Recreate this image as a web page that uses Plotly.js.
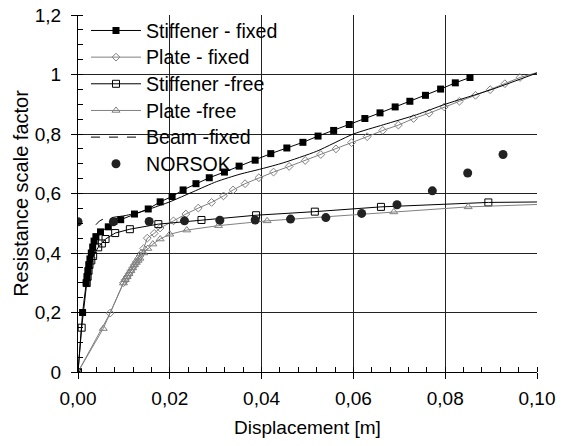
<!DOCTYPE html>
<html>
<head>
<meta charset="utf-8">
<script src="https://cdn.plot.ly/plotly-3.0.1.min.js"></script>
<style>html,body{margin:0;padding:0;background:#fff;}#chart{width:571px;height:446px;}</style>
</head>
<body>
<div id="chart"></div>
<script>
// ---- data ----
const stiffFixedX = [0, 0.0010, 0.0018, 0.0020, 0.0022, 0.0024, 0.0026, 0.0029, 0.0032, 0.0035, 0.0039, 0.0049, 0.0066, 0.0078, 0.0093, 0.0123, 0.0153, 0.0179, 0.0205, 0.0229, 0.0257, 0.0286, 0.0319, 0.0351, 0.0386, 0.0420, 0.0455, 0.0490, 0.0523, 0.0557, 0.0591, 0.0625, 0.0658, 0.0691, 0.0723, 0.0757, 0.0790, 0.0822, 0.0854];
const stiffFixedY = [0, 0.200, 0.300, 0.320, 0.340, 0.360, 0.380, 0.400, 0.420, 0.440, 0.455, 0.471, 0.488, 0.506, 0.512, 0.531, 0.548, 0.572, 0.590, 0.612, 0.633, 0.653, 0.672, 0.692, 0.712, 0.734, 0.753, 0.772, 0.793, 0.812, 0.832, 0.852, 0.871, 0.891, 0.910, 0.930, 0.951, 0.972, 0.990];

const plateFixedX = [0, 0.0070, 0.0099, 0.0103, 0.0107, 0.0111, 0.0115, 0.0119, 0.0123, 0.0127, 0.0131, 0.0135, 0.0139, 0.0143, 0.0151, 0.0166, 0.0179, 0.0208, 0.0235, 0.0262, 0.0291, 0.0317, 0.0338, 0.0364, 0.0394, 0.0426, 0.0460, 0.0495, 0.0529, 0.0562, 0.0596, 0.0630, 0.0664, 0.0698, 0.0731, 0.0765, 0.0798, 0.0831, 0.0866, 0.0898, 0.0930, 0.0963, 0.1012];
const plateFixedY = [0, 0.198, 0.300, 0.310, 0.320, 0.330, 0.340, 0.350, 0.360, 0.370, 0.380, 0.390, 0.400, 0.415, 0.450, 0.466, 0.484, 0.508, 0.531, 0.551, 0.570, 0.592, 0.612, 0.633, 0.653, 0.672, 0.691, 0.711, 0.731, 0.750, 0.771, 0.791, 0.812, 0.830, 0.852, 0.870, 0.891, 0.910, 0.930, 0.949, 0.969, 0.990, 1.012];

const stiffFreeX = [0, 0.0008, 0.0019, 0.0021, 0.0023, 0.0025, 0.0029, 0.0033, 0.0044, 0.0052, 0.0060, 0.0081, 0.0113, 0.0175, 0.0269, 0.0388, 0.0516, 0.0660, 0.0894, 0.1035];
const stiffFreeY = [0, 0.149, 0.299, 0.320, 0.340, 0.360, 0.375, 0.390, 0.419, 0.432, 0.447, 0.467, 0.480, 0.497, 0.511, 0.527, 0.539, 0.555, 0.570, 0.572];

const plateFreeX = [0, 0.0055, 0.0099, 0.0103, 0.0107, 0.0111, 0.0115, 0.0119, 0.0123, 0.0127, 0.0131, 0.0135, 0.0143, 0.0152, 0.0163, 0.0179, 0.0200, 0.0237, 0.0306, 0.0412, 0.0688, 0.0850, 0.1035];
const plateFreeY = [0, 0.146, 0.299, 0.310, 0.320, 0.330, 0.340, 0.350, 0.360, 0.368, 0.375, 0.382, 0.400, 0.415, 0.430, 0.447, 0.463, 0.477, 0.492, 0.508, 0.538, 0.555, 0.565];

// Beam: first sparse (dashed) part, then dense (solid-looking) part
const beamDashX = [0.0039, 0.0047, 0.0055, 0.0066, 0.0077];
const beamDashY = [0.495, 0.508, 0.514, 0.518, 0.520];
const beamSolidX = [0.0077, 0.0100, 0.0130, 0.0160, 0.0200, 0.0251, 0.0302, 0.0353, 0.0400, 0.0447, 0.0520, 0.0600, 0.0665, 0.0738, 0.0800, 0.0900, 0.1012];
const beamSolidY = [0.520, 0.525, 0.535, 0.550, 0.572, 0.606, 0.640, 0.665, 0.683, 0.703, 0.742, 0.800, 0.831, 0.865, 0.900, 0.949, 1.012];

const norsokX = [0, 0.0077, 0.0155, 0.0232, 0.0309, 0.0386, 0.0463, 0.0540, 0.0618, 0.0695, 0.0772, 0.0849, 0.0926];
const norsokY = [0.505, 0.505, 0.506, 0.508, 0.510, 0.511, 0.514, 0.519, 0.533, 0.562, 0.609, 0.669, 0.731];

const xTickVals = [0, 0.02, 0.04, 0.06, 0.08, 0.10];
const xTickText = ['0,00', '0,02', '0,04', '0,06', '0,08', '0,10'];
const yTickVals = [0, 0.2, 0.4, 0.6, 0.8, 1.0, 1.2];
const yTickText = ['0', '0,2', '0,4', '0,6', '0,8', '1', '1,2'];

const names = ['Stiffener - fixed', 'Plate - fixed', 'Stiffener -free', 'Plate -free', 'Beam -fixed', 'NORSOK'];
const BLACK = '#000000', GREY = '#808080';
const FONT = 'Liberation Sans, Arial, sans-serif';
// legend label: glyphs slightly larger than the legend's row spacing font
const lg = s => '<span style="font-size:19.6px">' + s + '</span>';

const traces = [
  {x: stiffFixedX, y: stiffFixedY, name: lg(names[0]), mode: 'lines+markers',
   line: {color: BLACK, width: 1}, marker: {symbol: 'square', size: 7, color: BLACK}},
  {x: plateFixedX, y: plateFixedY, name: lg(names[1]), mode: 'lines+markers',
   line: {color: GREY, width: 1}, marker: {symbol: 'diamond-open', size: 6, color: GREY, line: {width: 1}}},
  {x: stiffFreeX, y: stiffFreeY, name: lg(names[2]), mode: 'lines+markers',
   line: {color: BLACK, width: 1}, marker: {symbol: 'square-open', size: 7, color: BLACK, line: {width: 1}}},
  {x: plateFreeX, y: plateFreeY, name: lg(names[3]), mode: 'lines+markers',
   line: {color: GREY, width: 1}, marker: {symbol: 'triangle-up-open', size: 7, color: GREY, line: {width: 1}}},
  {x: beamDashX, y: beamDashY, name: lg(names[4]), mode: 'lines', legendgroup: 'beam',
   line: {color: BLACK, width: 1, dash: 'dash'}},
  {x: beamSolidX, y: beamSolidY, name: lg(names[4]), mode: 'lines', legendgroup: 'beam', showlegend: false,
   line: {color: BLACK, width: 1, shape: 'spline', smoothing: 0.6}},
  {x: norsokX, y: norsokY, name: lg(names[5]), mode: 'markers',
   marker: {symbol: 'circle', size: 9, color: '#222222'}}
];

const layout = {
  width: 571, height: 446,
  margin: {l: 78, r: 34, t: 13, b: 74},
  paper_bgcolor: '#ffffff', plot_bgcolor: '#ffffff',
  font: {family: FONT, size: 19, color: '#000'},
  showlegend: true,
  legend: {x: 0.0174, y: 1.008, xanchor: 'left', yanchor: 'top', bgcolor: 'rgba(0,0,0,0)', borderwidth: 0,
           font: {family: FONT, size: 18.2, color: '#000'}, itemwidth: 50, tracegroupgap: 0},
  // white legend area: hides the gridlines behind the legend, but stays under the data
  shapes: [{type: 'rect', xref: 'paper', yref: 'paper', x0: 0.002, x1: 0.4466, y0: 0.543, y1: 1.0,
            fillcolor: '#ffffff', line: {width: 0}, layer: 'between'}],
  xaxis: {range: [0, 0.1], tickvals: xTickVals, ticktext: xTickText,
          showgrid: true, gridcolor: '#222222', gridwidth: 1, zeroline: false,
          showline: true, linecolor: '#000', linewidth: 1,
          ticks: 'outside', ticklen: 6, tickcolor: '#000', ticklabelstandoff: 3,
          minor: {dtick: 0.004, tick0: 0, ticks: 'inside', ticklen: 5, tickcolor: '#000', showgrid: false},
          title: {text: 'Displacement [m]', font: {family: FONT, size: 19}, standoff: 12}},
  yaxis: {range: [0, 1.2], tickvals: yTickVals, ticktext: yTickText,
          showgrid: true, gridcolor: '#222222', gridwidth: 1, zeroline: false,
          showline: true, linecolor: '#000', linewidth: 1,
          ticks: 'outside', ticklen: 6, tickcolor: '#000', ticklabelstandoff: 6,
          minor: {dtick: 0.05, tick0: 0, ticks: 'inside', ticklen: 5, tickcolor: '#000', showgrid: false},
          title: {text: 'Resistance scale factor', font: {family: FONT, size: 20}, standoff: 0}}
};

Plotly.newPlot('chart', traces, layout, {displayModeBar: false, staticPlot: true});
</script>
</body>
</html>
